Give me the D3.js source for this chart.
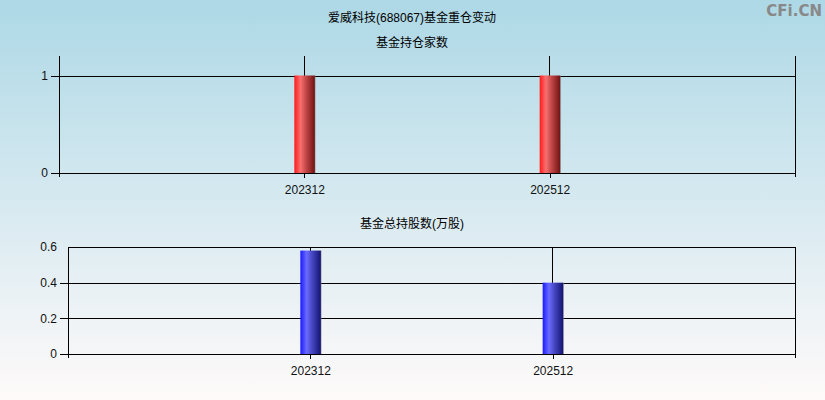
<!DOCTYPE html>
<html lang="zh">
<head>
    <meta charset="UTF-8">
    <script src="https://d3js.org/d3.v7.min.js"></script>
    <style>
        body { margin: 0; font-family: "Liberation Sans", Arial, "Noto Sans CJK SC", sans-serif; }
        .grid { stroke: #000; stroke-width: 1px; shape-rendering: crispEdges; }
        .axis text { font-size: 12px; fill: #111; }
        .axis path, .axis line { stroke: #000; shape-rendering: crispEdges; }
    </style>
</head>
<body>
    <svg id="chart"></svg>
    <script>
        const periods = ["202312", "202512"];
        const fundCount = [1, 1];
        const fundShares = [0.58, 0.4];
        const countTicks = [0, 1];
        const shareTicks = [0, 0.2, 0.4, 0.6];

        const W = 825, H = 400;
        const svg = d3.select("#chart").attr("width", W).attr("height", H);
        const defs = svg.append("defs");

        const bg = defs.append("linearGradient").attr("id", "bg")
            .attr("x1", 0).attr("y1", 0).attr("x2", 0).attr("y2", 1);
        bg.append("stop").attr("offset", "0%").attr("stop-color", "#add8e6");
        bg.append("stop").attr("offset", "100%").attr("stop-color", "#fffafa");

        function barGrad(id, c) {
            const g = defs.append("linearGradient").attr("id", id)
                .attr("x1", 0).attr("y1", 0).attr("x2", 1).attr("y2", 0);
            g.append("stop").attr("offset", "0%").attr("stop-color", c[0]);
            g.append("stop").attr("offset", "30%").attr("stop-color", c[1]);
            g.append("stop").attr("offset", "55%").attr("stop-color", c[2]);
            g.append("stop").attr("offset", "95%").attr("stop-color", c[3]);
            g.append("stop").attr("offset", "100%").attr("stop-color", "#777");
        }
        barGrad("red", ["#ff1a1a", "#f87070", "#c44848", "#761616"]);
        barGrad("blue", ["#1a1aff", "#6a6aff", "#4848c4", "#16167a"]);

        svg.append("rect").attr("width", W).attr("height", H).attr("fill", "url(#bg)");

        svg.append("text").attr("x", 412).attr("y", 22).attr("text-anchor", "middle")
            .attr("font-size", 12).attr("fill", "#000").text("爱威科技(688067)基金重仓变动");
        svg.append("text").attr("x", 822).attr("y", 16).attr("text-anchor", "end")
            .attr("font-size", 15).attr("font-weight", "bold").attr("fill", "#888")
            .attr("font-family", "'DejaVu Sans', sans-serif").text("CFi.CN");

        function panel(o) {
            const x = d3.scalePoint().domain(periods).range([o.left, o.right]).padding(1);
            const y = d3.scaleLinear().domain([0, o.max]).range([o.bottom, o.top]);
            const g = svg.append("g");

            g.append("text").attr("x", 412).attr("y", o.titleY).attr("text-anchor", "middle")
                .attr("font-size", 12).attr("fill", "#000").text(o.title);

            // vertical grid at categories
            g.selectAll(".vg").data(periods).enter().append("line").attr("class", "grid")
                .attr("x1", d => x(d)).attr("x2", d => x(d))
                .attr("y1", o.top).attr("y2", o.bottom);

            // horizontal grid
            g.selectAll(".hg").data(o.ticks).enter().append("line").attr("class", "grid")
                .attr("x1", d => d === o.max ? o.left : o.left - 8).attr("x2", o.right)
                .attr("y1", d => Math.round(y(d)) + 0.5).attr("y2", d => Math.round(y(d)) + 0.5);

            // bars
            g.selectAll(".bar").data(o.values).enter().append("rect")
                .attr("x", (d, i) => x(periods[i]) - 10)
                .attr("y", d => y(d))
                .attr("width", 21)
                .attr("height", d => o.bottom - y(d))
                .attr("fill", o.fill);

            // side axes
            [o.left, o.right].forEach(xx => {
                g.append("line").attr("class", "grid")
                    .attr("x1", Math.round(xx) + 0.5).attr("x2", Math.round(xx) + 0.5)
                    .attr("y1", o.top).attr("y2", o.bottom + 4);
            });

            g.append("g").attr("class", "axis")
                .attr("transform", `translate(0,${Math.round(o.bottom) + 0.5})`)
                .call(d3.axisBottom(x).tickSize(4).tickPadding(8))
                .call(s => s.select(".domain").remove());

            g.append("g").attr("class", "axis")
                .attr("transform", `translate(${o.left},0)`)
                .call(d3.axisLeft(y).tickValues(o.ticks).tickSize(0).tickPadding(11)
                    .tickFormat(d3.format("")))
                .call(s => s.select(".domain").remove());
        }

        panel({
            title: "基金持仓家数", titleY: 47,
            left: 59, right: 795, top: 56, bottom: 173,
            max: 1.2, ticks: countTicks, values: fundCount, fill: "url(#red)"
        });

        panel({
            title: "基金总持股数(万股)", titleY: 228,
            left: 68, right: 795, top: 247, bottom: 354,
            max: 0.6, ticks: shareTicks, values: fundShares, fill: "url(#blue)"
        });
    </script>
</body>
</html>
